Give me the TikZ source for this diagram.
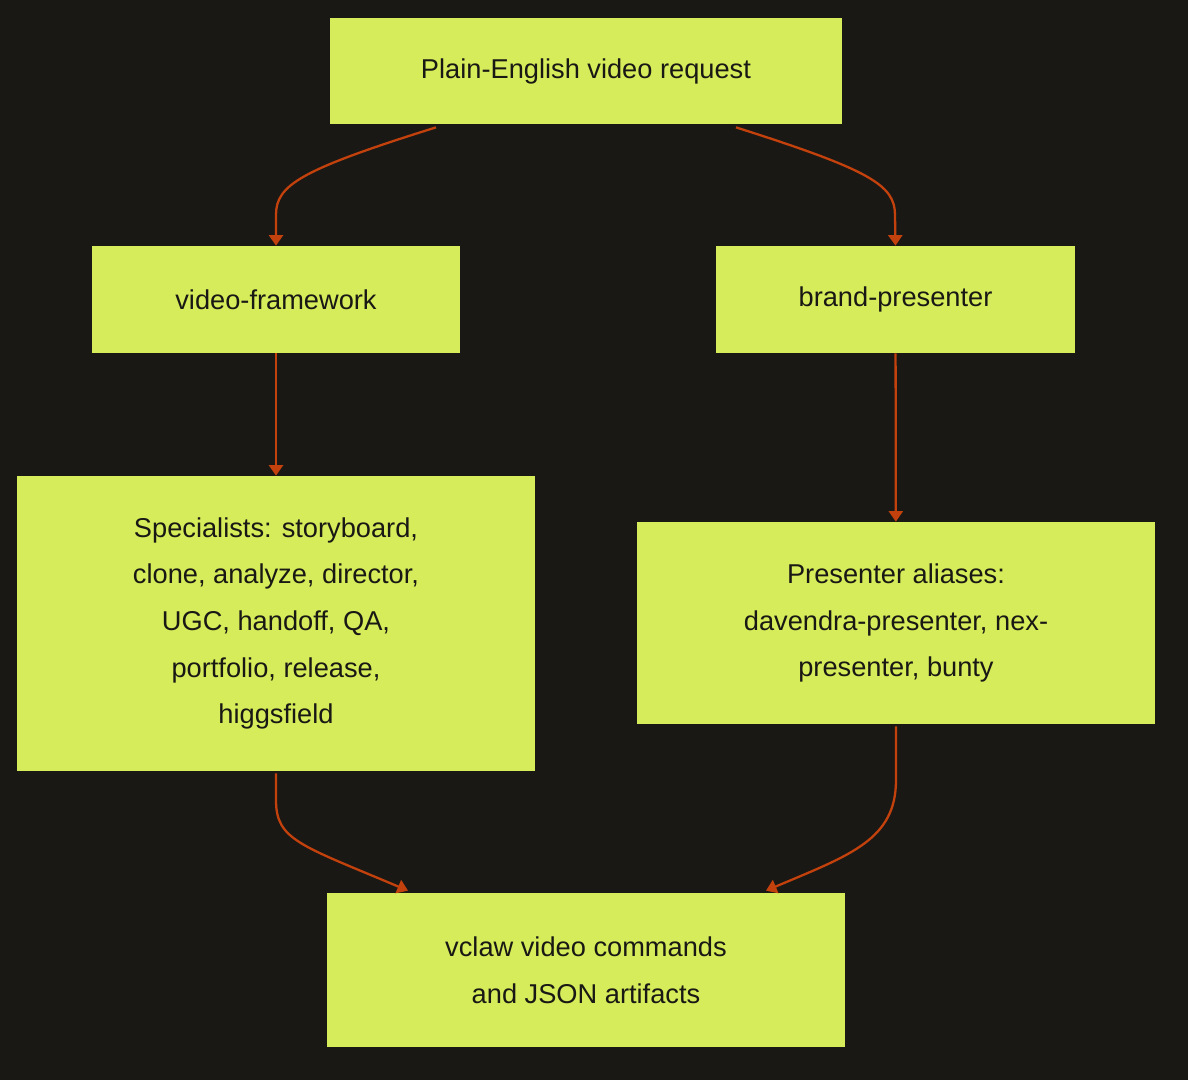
\documentclass[tikz,border=0pt]{standalone}
\usepackage{fontspec}
\setmainfont{Liberation Sans}
\usetikzlibrary{arrows.meta,calc}
\definecolor{bg}{HTML}{1A1814}
\definecolor{nf}{HTML}{D6EC5A}
\definecolor{ar}{HTML}{C2410C}
\definecolor{tx}{HTML}{1A1814}
\begin{document}
\begin{tikzpicture}[x=0.02cm,y=-0.02cm,
  box/.style={fill=nf,draw=none,rectangle,inner sep=0pt,align=center,text=tx,font=\fontsize{15.5}{26.5}\selectfont},
  con/.style={draw=ar,line width=1.3pt,-{Triangle[width=8pt,length=6pt]}}]
\fill[bg] (0,0) rectangle (1188,1080);
\useasboundingbox (0,0) rectangle (1188,1080);
\node[box,minimum width=512*0.02cm,minimum height=106*0.02cm] (top) at (586,71) {Plain-English video request};
\node[box,minimum width=368*0.02cm,minimum height=107*0.02cm] (vf) at (276,299.5) {video-framework};
\node[box,minimum width=359*0.02cm,minimum height=107*0.02cm] (bp) at (895.5,299.5) {brand-presenter};
\node[box,minimum width=518*0.02cm,minimum height=295*0.02cm] (sp) at (276,623.5) {Specialists: storyboard,\\clone, analyze, director,\\UGC, handoff, QA,\\portfolio, release,\\higgsfield};
\node[box,minimum width=518*0.02cm,minimum height=202*0.02cm] (pa) at (896,623) {Presenter aliases:\\davendra-presenter, nex-\\presenter, bunty};
\node[box,minimum width=518*0.02cm,minimum height=154*0.02cm] (vc) at (586,970) {vclaw video commands\\and JSON artifacts};
\coordinate (t1) at ($(top.south)+(-150,3)$);
\coordinate (t2) at ($(top.south)+(150,3)$);
\coordinate (s1) at ($(sp.south)+(0,2)$);
\coordinate (p1) at ($(pa.south)+(0,2)$);
\coordinate (v1) at ($(vc.north)+(-178,-2)$);
\coordinate (v2) at ($(vc.north)+(180,-2)$);
\draw[con] (t1) .. controls (300,170) and (276,185) .. (276,215) -- (vf.north);
\draw[con] (t2) .. controls (870,170) and (895,185) .. (895,215) -- (bp.north);
\draw[con] (vf) -- (sp);
\draw[con] (bp) -- (pa);
\draw[con] (s1) -- (276,800) .. controls (276,840) and (300,845) .. (v1);
\draw[con] (p1) -- (896,780) .. controls (896,840) and (850,855) .. (v2);
\end{tikzpicture}
\end{document}
